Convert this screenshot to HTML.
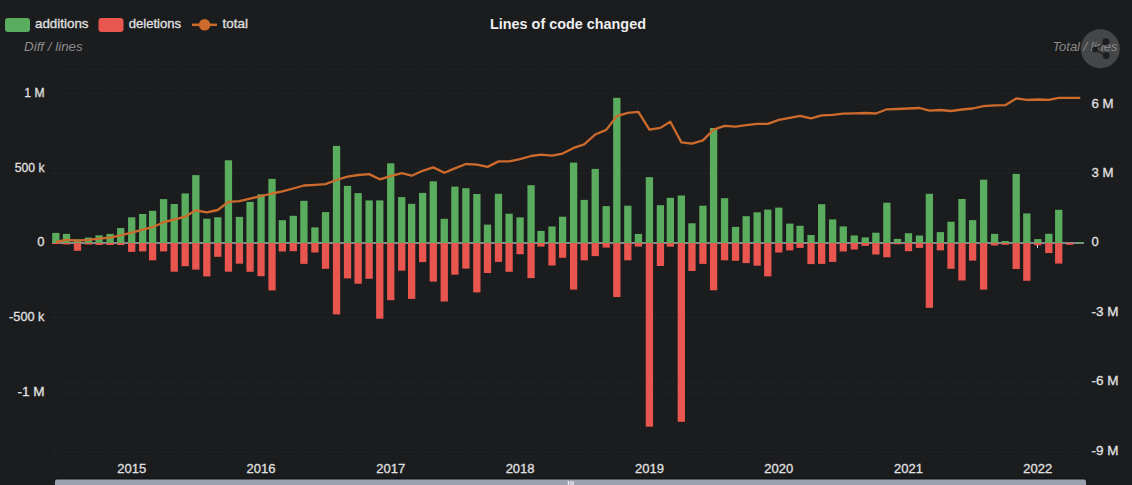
<!DOCTYPE html><html><head><meta charset="utf-8"><style>
html,body{margin:0;padding:0;background:#1b1c1e;width:1132px;height:485px;overflow:hidden}
svg{display:block}
text{font-family:"Liberation Sans",sans-serif}
.b{stroke:currentColor;stroke-width:0.3px}
</style></head><body>
<svg width="1132" height="485" viewBox="0 0 1132 485">
<rect width="1132" height="485" fill="#1b1c1e"/>

<line x1="52" y1="69.6" x2="1084" y2="69.6" stroke="#292a2d" stroke-width="1" stroke-dasharray="1,2"/>
<line x1="52" y1="93.5" x2="1084" y2="93.5" stroke="#292a2d" stroke-width="1" stroke-dasharray="1,2"/>
<line x1="52" y1="104.2" x2="1084" y2="104.2" stroke="#292a2d" stroke-width="1" stroke-dasharray="1,2"/>
<line x1="52" y1="168.2" x2="1084" y2="168.2" stroke="#292a2d" stroke-width="1" stroke-dasharray="1,2"/>
<line x1="52" y1="173.4" x2="1084" y2="173.4" stroke="#292a2d" stroke-width="1" stroke-dasharray="1,2"/>
<line x1="52" y1="312.6" x2="1084" y2="312.6" stroke="#292a2d" stroke-width="1" stroke-dasharray="1,2"/>
<line x1="52" y1="317.8" x2="1084" y2="317.8" stroke="#292a2d" stroke-width="1" stroke-dasharray="1,2"/>
<line x1="52" y1="382.0" x2="1084" y2="382.0" stroke="#292a2d" stroke-width="1" stroke-dasharray="1,2"/>
<line x1="52" y1="392.4" x2="1084" y2="392.4" stroke="#292a2d" stroke-width="1" stroke-dasharray="1,2"/>
<line x1="52" y1="452.0" x2="1084" y2="452.0" stroke="#292a2d" stroke-width="1" stroke-dasharray="1,2"/>
<line x1="52" y1="455.8" x2="1084" y2="455.8" stroke="#292a2d" stroke-width="1" stroke-dasharray="1,2"/>
<rect x="52" y="242" width="1032" height="2" fill="#86888e"/>
<rect x="52.21" y="232.9" width="7.3" height="10.1" fill="#5aad5e"/>
<rect x="52.21" y="243.0" width="7.3" height="1.0" fill="#e8564f"/>
<rect x="62.85" y="233.9" width="7.3" height="9.1" fill="#5aad5e"/>
<rect x="62.85" y="243.0" width="7.3" height="1.5" fill="#e8564f"/>
<rect x="73.83" y="239.2" width="7.3" height="3.8" fill="#5aad5e"/>
<rect x="73.83" y="243.0" width="7.3" height="7.8" fill="#e8564f"/>
<rect x="84.82" y="237.6" width="7.3" height="5.4" fill="#5aad5e"/>
<rect x="84.82" y="243.0" width="7.3" height="1.5" fill="#e8564f"/>
<rect x="95.45" y="235.3" width="7.3" height="7.7" fill="#5aad5e"/>
<rect x="95.45" y="243.0" width="7.3" height="2.0" fill="#e8564f"/>
<rect x="106.43" y="233.9" width="7.3" height="9.1" fill="#5aad5e"/>
<rect x="106.43" y="243.0" width="7.3" height="2.0" fill="#e8564f"/>
<rect x="117.06" y="228.0" width="7.3" height="15.0" fill="#5aad5e"/>
<rect x="117.06" y="243.0" width="7.3" height="2.0" fill="#e8564f"/>
<rect x="128.05" y="217.3" width="7.3" height="25.7" fill="#5aad5e"/>
<rect x="128.05" y="243.0" width="7.3" height="8.9" fill="#e8564f"/>
<rect x="139.04" y="214.0" width="7.3" height="29.0" fill="#5aad5e"/>
<rect x="139.04" y="243.0" width="7.3" height="8.4" fill="#e8564f"/>
<rect x="148.96" y="210.8" width="7.3" height="32.2" fill="#5aad5e"/>
<rect x="148.96" y="243.0" width="7.3" height="17.3" fill="#e8564f"/>
<rect x="159.94" y="199.1" width="7.3" height="43.9" fill="#5aad5e"/>
<rect x="159.94" y="243.0" width="7.3" height="8.4" fill="#e8564f"/>
<rect x="170.57" y="204.0" width="7.3" height="39.0" fill="#5aad5e"/>
<rect x="170.57" y="243.0" width="7.3" height="28.7" fill="#e8564f"/>
<rect x="181.56" y="193.4" width="7.3" height="49.6" fill="#5aad5e"/>
<rect x="181.56" y="243.0" width="7.3" height="23.2" fill="#e8564f"/>
<rect x="192.19" y="175.1" width="7.3" height="67.9" fill="#5aad5e"/>
<rect x="192.19" y="243.0" width="7.3" height="26.6" fill="#e8564f"/>
<rect x="203.18" y="218.7" width="7.3" height="24.3" fill="#5aad5e"/>
<rect x="203.18" y="243.0" width="7.3" height="33.4" fill="#e8564f"/>
<rect x="214.16" y="217.3" width="7.3" height="25.7" fill="#5aad5e"/>
<rect x="214.16" y="243.0" width="7.3" height="13.8" fill="#e8564f"/>
<rect x="224.79" y="160.3" width="7.3" height="82.7" fill="#5aad5e"/>
<rect x="224.79" y="243.0" width="7.3" height="28.7" fill="#e8564f"/>
<rect x="235.78" y="216.9" width="7.3" height="26.1" fill="#5aad5e"/>
<rect x="235.78" y="243.0" width="7.3" height="20.7" fill="#e8564f"/>
<rect x="246.41" y="201.9" width="7.3" height="41.1" fill="#5aad5e"/>
<rect x="246.41" y="243.0" width="7.3" height="28.8" fill="#e8564f"/>
<rect x="257.40" y="194.3" width="7.3" height="48.7" fill="#5aad5e"/>
<rect x="257.40" y="243.0" width="7.3" height="33.2" fill="#e8564f"/>
<rect x="268.38" y="178.9" width="7.3" height="64.1" fill="#5aad5e"/>
<rect x="268.38" y="243.0" width="7.3" height="47.4" fill="#e8564f"/>
<rect x="278.66" y="220.2" width="7.3" height="22.8" fill="#5aad5e"/>
<rect x="278.66" y="243.0" width="7.3" height="8.5" fill="#e8564f"/>
<rect x="289.64" y="215.8" width="7.3" height="27.2" fill="#5aad5e"/>
<rect x="289.64" y="243.0" width="7.3" height="8.2" fill="#e8564f"/>
<rect x="300.27" y="200.8" width="7.3" height="42.2" fill="#5aad5e"/>
<rect x="300.27" y="243.0" width="7.3" height="20.9" fill="#e8564f"/>
<rect x="311.26" y="227.4" width="7.3" height="15.6" fill="#5aad5e"/>
<rect x="311.26" y="243.0" width="7.3" height="9.5" fill="#e8564f"/>
<rect x="321.89" y="212.1" width="7.3" height="30.9" fill="#5aad5e"/>
<rect x="321.89" y="243.0" width="7.3" height="25.8" fill="#e8564f"/>
<rect x="332.88" y="145.9" width="7.3" height="97.1" fill="#5aad5e"/>
<rect x="332.88" y="243.0" width="7.3" height="71.4" fill="#e8564f"/>
<rect x="343.86" y="185.9" width="7.3" height="57.1" fill="#5aad5e"/>
<rect x="343.86" y="243.0" width="7.3" height="35.4" fill="#e8564f"/>
<rect x="354.49" y="193.1" width="7.3" height="49.9" fill="#5aad5e"/>
<rect x="354.49" y="243.0" width="7.3" height="40.7" fill="#e8564f"/>
<rect x="365.48" y="200.4" width="7.3" height="42.6" fill="#5aad5e"/>
<rect x="365.48" y="243.0" width="7.3" height="35.8" fill="#e8564f"/>
<rect x="376.11" y="200.4" width="7.3" height="42.6" fill="#5aad5e"/>
<rect x="376.11" y="243.0" width="7.3" height="75.7" fill="#e8564f"/>
<rect x="387.09" y="163.3" width="7.3" height="79.7" fill="#5aad5e"/>
<rect x="387.09" y="243.0" width="7.3" height="57.2" fill="#e8564f"/>
<rect x="398.08" y="197.1" width="7.3" height="45.9" fill="#5aad5e"/>
<rect x="398.08" y="243.0" width="7.3" height="27.7" fill="#e8564f"/>
<rect x="408.00" y="203.8" width="7.3" height="39.2" fill="#5aad5e"/>
<rect x="408.00" y="243.0" width="7.3" height="55.9" fill="#e8564f"/>
<rect x="418.99" y="192.9" width="7.3" height="50.1" fill="#5aad5e"/>
<rect x="418.99" y="243.0" width="7.3" height="19.1" fill="#e8564f"/>
<rect x="429.62" y="181.3" width="7.3" height="61.7" fill="#5aad5e"/>
<rect x="429.62" y="243.0" width="7.3" height="38.6" fill="#e8564f"/>
<rect x="440.60" y="218.8" width="7.3" height="24.2" fill="#5aad5e"/>
<rect x="440.60" y="243.0" width="7.3" height="58.5" fill="#e8564f"/>
<rect x="451.24" y="186.6" width="7.3" height="56.4" fill="#5aad5e"/>
<rect x="451.24" y="243.0" width="7.3" height="31.7" fill="#e8564f"/>
<rect x="462.22" y="188.2" width="7.3" height="54.8" fill="#5aad5e"/>
<rect x="462.22" y="243.0" width="7.3" height="25.6" fill="#e8564f"/>
<rect x="473.21" y="194.0" width="7.3" height="49.0" fill="#5aad5e"/>
<rect x="473.21" y="243.0" width="7.3" height="49.4" fill="#e8564f"/>
<rect x="483.84" y="224.6" width="7.3" height="18.4" fill="#5aad5e"/>
<rect x="483.84" y="243.0" width="7.3" height="30.0" fill="#e8564f"/>
<rect x="494.82" y="193.8" width="7.3" height="49.2" fill="#5aad5e"/>
<rect x="494.82" y="243.0" width="7.3" height="18.9" fill="#e8564f"/>
<rect x="505.45" y="213.7" width="7.3" height="29.3" fill="#5aad5e"/>
<rect x="505.45" y="243.0" width="7.3" height="28.8" fill="#e8564f"/>
<rect x="516.44" y="217.4" width="7.3" height="25.6" fill="#5aad5e"/>
<rect x="516.44" y="243.0" width="7.3" height="11.2" fill="#e8564f"/>
<rect x="527.42" y="185.2" width="7.3" height="57.8" fill="#5aad5e"/>
<rect x="527.42" y="243.0" width="7.3" height="35.1" fill="#e8564f"/>
<rect x="537.35" y="230.9" width="7.3" height="12.1" fill="#5aad5e"/>
<rect x="537.35" y="243.0" width="7.3" height="3.6" fill="#e8564f"/>
<rect x="548.33" y="226.5" width="7.3" height="16.5" fill="#5aad5e"/>
<rect x="548.33" y="243.0" width="7.3" height="22.5" fill="#e8564f"/>
<rect x="558.96" y="216.7" width="7.3" height="26.3" fill="#5aad5e"/>
<rect x="558.96" y="243.0" width="7.3" height="14.8" fill="#e8564f"/>
<rect x="569.95" y="162.6" width="7.3" height="80.4" fill="#5aad5e"/>
<rect x="569.95" y="243.0" width="7.3" height="46.6" fill="#e8564f"/>
<rect x="580.58" y="199.9" width="7.3" height="43.1" fill="#5aad5e"/>
<rect x="580.58" y="243.0" width="7.3" height="17.3" fill="#e8564f"/>
<rect x="591.57" y="168.9" width="7.3" height="74.1" fill="#5aad5e"/>
<rect x="591.57" y="243.0" width="7.3" height="13.1" fill="#e8564f"/>
<rect x="602.55" y="206.1" width="7.3" height="36.9" fill="#5aad5e"/>
<rect x="602.55" y="243.0" width="7.3" height="4.6" fill="#e8564f"/>
<rect x="613.18" y="97.8" width="7.3" height="145.2" fill="#5aad5e"/>
<rect x="613.18" y="243.0" width="7.3" height="54.0" fill="#e8564f"/>
<rect x="624.17" y="205.7" width="7.3" height="37.3" fill="#5aad5e"/>
<rect x="624.17" y="243.0" width="7.3" height="17.3" fill="#e8564f"/>
<rect x="634.80" y="233.9" width="7.3" height="9.1" fill="#5aad5e"/>
<rect x="634.80" y="243.0" width="7.3" height="3.6" fill="#e8564f"/>
<rect x="645.78" y="177.2" width="7.3" height="65.8" fill="#5aad5e"/>
<rect x="645.78" y="243.0" width="7.3" height="183.7" fill="#e8564f"/>
<rect x="656.77" y="205.2" width="7.3" height="37.8" fill="#5aad5e"/>
<rect x="656.77" y="243.0" width="7.3" height="23.0" fill="#e8564f"/>
<rect x="666.69" y="197.8" width="7.3" height="45.2" fill="#5aad5e"/>
<rect x="666.69" y="243.0" width="7.3" height="3.7" fill="#e8564f"/>
<rect x="677.68" y="195.5" width="7.3" height="47.5" fill="#5aad5e"/>
<rect x="677.68" y="243.0" width="7.3" height="178.8" fill="#e8564f"/>
<rect x="688.31" y="223.3" width="7.3" height="19.7" fill="#5aad5e"/>
<rect x="688.31" y="243.0" width="7.3" height="28.0" fill="#e8564f"/>
<rect x="699.29" y="205.7" width="7.3" height="37.3" fill="#5aad5e"/>
<rect x="699.29" y="243.0" width="7.3" height="20.9" fill="#e8564f"/>
<rect x="709.93" y="128.0" width="7.3" height="115.0" fill="#5aad5e"/>
<rect x="709.93" y="243.0" width="7.3" height="47.3" fill="#e8564f"/>
<rect x="720.91" y="198.2" width="7.3" height="44.8" fill="#5aad5e"/>
<rect x="720.91" y="243.0" width="7.3" height="17.3" fill="#e8564f"/>
<rect x="731.90" y="226.9" width="7.3" height="16.1" fill="#5aad5e"/>
<rect x="731.90" y="243.0" width="7.3" height="17.8" fill="#e8564f"/>
<rect x="742.53" y="216.2" width="7.3" height="26.8" fill="#5aad5e"/>
<rect x="742.53" y="243.0" width="7.3" height="20.1" fill="#e8564f"/>
<rect x="753.51" y="212.3" width="7.3" height="30.7" fill="#5aad5e"/>
<rect x="753.51" y="243.0" width="7.3" height="22.7" fill="#e8564f"/>
<rect x="764.14" y="209.6" width="7.3" height="33.4" fill="#5aad5e"/>
<rect x="764.14" y="243.0" width="7.3" height="33.4" fill="#e8564f"/>
<rect x="775.13" y="207.6" width="7.3" height="35.4" fill="#5aad5e"/>
<rect x="775.13" y="243.0" width="7.3" height="9.5" fill="#e8564f"/>
<rect x="786.12" y="223.6" width="7.3" height="19.4" fill="#5aad5e"/>
<rect x="786.12" y="243.0" width="7.3" height="7.4" fill="#e8564f"/>
<rect x="796.39" y="225.8" width="7.3" height="17.2" fill="#5aad5e"/>
<rect x="796.39" y="243.0" width="7.3" height="4.9" fill="#e8564f"/>
<rect x="807.38" y="235.0" width="7.3" height="8.0" fill="#5aad5e"/>
<rect x="807.38" y="243.0" width="7.3" height="21.1" fill="#e8564f"/>
<rect x="818.01" y="204.2" width="7.3" height="38.8" fill="#5aad5e"/>
<rect x="818.01" y="243.0" width="7.3" height="20.9" fill="#e8564f"/>
<rect x="828.99" y="219.4" width="7.3" height="23.6" fill="#5aad5e"/>
<rect x="828.99" y="243.0" width="7.3" height="18.9" fill="#e8564f"/>
<rect x="839.62" y="226.4" width="7.3" height="16.6" fill="#5aad5e"/>
<rect x="839.62" y="243.0" width="7.3" height="8.5" fill="#e8564f"/>
<rect x="850.61" y="235.5" width="7.3" height="7.5" fill="#5aad5e"/>
<rect x="850.61" y="243.0" width="7.3" height="6.5" fill="#e8564f"/>
<rect x="861.60" y="237.4" width="7.3" height="5.6" fill="#5aad5e"/>
<rect x="861.60" y="243.0" width="7.3" height="2.9" fill="#e8564f"/>
<rect x="872.23" y="232.7" width="7.3" height="10.3" fill="#5aad5e"/>
<rect x="872.23" y="243.0" width="7.3" height="11.5" fill="#e8564f"/>
<rect x="883.21" y="202.7" width="7.3" height="40.3" fill="#5aad5e"/>
<rect x="883.21" y="243.0" width="7.3" height="14.3" fill="#e8564f"/>
<rect x="893.84" y="238.9" width="7.3" height="4.1" fill="#5aad5e"/>
<rect x="893.84" y="243.0" width="7.3" height="1.3" fill="#e8564f"/>
<rect x="904.83" y="233.2" width="7.3" height="9.8" fill="#5aad5e"/>
<rect x="904.83" y="243.0" width="7.3" height="8.2" fill="#e8564f"/>
<rect x="915.81" y="235.5" width="7.3" height="7.5" fill="#5aad5e"/>
<rect x="915.81" y="243.0" width="7.3" height="4.9" fill="#e8564f"/>
<rect x="925.74" y="193.8" width="7.3" height="49.2" fill="#5aad5e"/>
<rect x="925.74" y="243.0" width="7.3" height="64.8" fill="#e8564f"/>
<rect x="936.72" y="232.1" width="7.3" height="10.9" fill="#5aad5e"/>
<rect x="936.72" y="243.0" width="7.3" height="7.4" fill="#e8564f"/>
<rect x="947.35" y="221.7" width="7.3" height="21.3" fill="#5aad5e"/>
<rect x="947.35" y="243.0" width="7.3" height="25.8" fill="#e8564f"/>
<rect x="958.34" y="199.0" width="7.3" height="44.0" fill="#5aad5e"/>
<rect x="958.34" y="243.0" width="7.3" height="37.5" fill="#e8564f"/>
<rect x="968.97" y="220.1" width="7.3" height="22.9" fill="#5aad5e"/>
<rect x="968.97" y="243.0" width="7.3" height="17.6" fill="#e8564f"/>
<rect x="979.96" y="179.7" width="7.3" height="63.3" fill="#5aad5e"/>
<rect x="979.96" y="243.0" width="7.3" height="46.6" fill="#e8564f"/>
<rect x="990.94" y="233.9" width="7.3" height="9.1" fill="#5aad5e"/>
<rect x="990.94" y="243.0" width="7.3" height="2.5" fill="#e8564f"/>
<rect x="1001.57" y="241.0" width="7.3" height="2.0" fill="#5aad5e"/>
<rect x="1001.57" y="243.0" width="7.3" height="1.8" fill="#e8564f"/>
<rect x="1012.56" y="173.9" width="7.3" height="69.1" fill="#5aad5e"/>
<rect x="1012.56" y="243.0" width="7.3" height="26.0" fill="#e8564f"/>
<rect x="1023.19" y="213.4" width="7.3" height="29.6" fill="#5aad5e"/>
<rect x="1023.19" y="243.0" width="7.3" height="37.8" fill="#e8564f"/>
<rect x="1034.17" y="239.1" width="7.3" height="3.9" fill="#5aad5e"/>
<rect x="1034.17" y="243.0" width="7.3" height="2.3" fill="#e8564f"/>
<rect x="1045.16" y="233.8" width="7.3" height="9.2" fill="#5aad5e"/>
<rect x="1045.16" y="243.0" width="7.3" height="10.0" fill="#e8564f"/>
<rect x="1055.08" y="209.8" width="7.3" height="33.2" fill="#5aad5e"/>
<rect x="1055.08" y="243.0" width="7.3" height="20.6" fill="#e8564f"/>
<rect x="1066.07" y="243.0" width="7.3" height="1.8" fill="#e8564f"/>
<rect x="1076.70" y="242.0" width="7.3" height="1.0" fill="#5aad5e"/>
<polyline points="55.9,242.0 66.5,239.9 77.5,240.7 88.5,239.9 99.1,238.7 110.1,237.6 120.7,235.4 131.7,232.6 142.7,229.6 152.6,227.2 163.6,222.2 174.2,219.7 185.2,216.7 195.8,210.3 206.8,212.3 217.8,210.0 228.4,201.9 239.4,201.1 250.1,198.7 261.0,196.1 272.0,193.5 282.3,191.4 293.3,188.5 303.9,185.5 314.9,184.8 325.5,184.1 336.5,180.0 347.5,176.7 358.1,175.0 369.1,174.1 379.8,179.3 390.7,176.1 401.7,173.1 411.7,175.7 422.6,170.8 433.3,167.4 444.3,172.8 454.9,168.4 465.9,164.0 476.9,164.7 487.5,166.9 498.5,161.4 509.1,161.4 520.1,159.2 531.1,156.0 541.0,154.6 552.0,155.7 562.6,153.6 573.6,147.9 584.2,144.4 595.2,134.5 606.2,129.9 616.8,116.1 627.8,112.8 638.4,111.8 649.4,129.6 660.4,127.9 670.3,121.7 681.3,142.3 692.0,143.7 702.9,140.4 713.6,129.7 724.6,125.9 735.5,126.7 746.2,125.1 757.2,123.9 767.8,123.9 778.8,119.8 789.8,117.8 800.0,115.9 811.0,118.3 821.7,115.4 832.6,114.9 843.3,113.7 854.3,113.3 865.2,113.0 875.9,113.5 886.9,109.3 897.5,109.0 908.5,108.5 919.5,108.0 929.4,110.7 940.4,110.0 951.0,111.0 962.0,109.5 972.6,108.5 983.6,106.1 994.6,105.3 1005.2,105.2 1016.2,98.4 1026.8,99.9 1037.8,99.5 1048.8,99.9 1058.7,97.9 1069.7,97.9 1080.3,97.9" fill="none" stroke="#cd6b2d" stroke-width="2.3" stroke-linejoin="round"/>
<text x="44.5" y="96.8" font-size="13" fill="#e0e0e0" stroke="#e0e0e0" stroke-width="0.3" text-anchor="end" textLength="20.2" lengthAdjust="spacingAndGlyphs">1 M</text>
<text x="44.5" y="171.5" font-size="13" fill="#e0e0e0" stroke="#e0e0e0" stroke-width="0.3" text-anchor="end" textLength="29.8" lengthAdjust="spacingAndGlyphs">500 k</text>
<text x="44.5" y="246.3" font-size="13" fill="#e0e0e0" stroke="#e0e0e0" stroke-width="0.3" text-anchor="end">0</text>
<text x="44.5" y="321.1" font-size="13" fill="#e0e0e0" stroke="#e0e0e0" stroke-width="0.3" text-anchor="end" textLength="35.4" lengthAdjust="spacingAndGlyphs">-500 k</text>
<text x="44.5" y="395.7" font-size="13" fill="#e0e0e0" stroke="#e0e0e0" stroke-width="0.3" text-anchor="end" textLength="27.1" lengthAdjust="spacingAndGlyphs">-1 M</text>
<text x="1091.5" y="107.5" font-size="13" fill="#e0e0e0" stroke="#e0e0e0" stroke-width="0.3" textLength="22" lengthAdjust="spacingAndGlyphs">6 M</text>
<text x="1091.5" y="176.7" font-size="13" fill="#e0e0e0" stroke="#e0e0e0" stroke-width="0.3" textLength="22" lengthAdjust="spacingAndGlyphs">3 M</text>
<text x="1091.5" y="246.3" font-size="13" fill="#e0e0e0" stroke="#e0e0e0" stroke-width="0.3">0</text>
<text x="1091.5" y="315.9" font-size="13" fill="#e0e0e0" stroke="#e0e0e0" stroke-width="0.3" textLength="27" lengthAdjust="spacingAndGlyphs">-3 M</text>
<text x="1091.5" y="385.3" font-size="13" fill="#e0e0e0" stroke="#e0e0e0" stroke-width="0.3" textLength="27" lengthAdjust="spacingAndGlyphs">-6 M</text>
<text x="1091.5" y="455.3" font-size="13" fill="#e0e0e0" stroke="#e0e0e0" stroke-width="0.3" textLength="27" lengthAdjust="spacingAndGlyphs">-9 M</text>
<text x="131.7" y="473" font-size="13" fill="#e0e0e0" stroke="#e0e0e0" stroke-width="0.3" text-anchor="middle">2015</text>
<text x="261.0" y="473" font-size="13" fill="#e0e0e0" stroke="#e0e0e0" stroke-width="0.3" text-anchor="middle">2016</text>
<text x="390.7" y="473" font-size="13" fill="#e0e0e0" stroke="#e0e0e0" stroke-width="0.3" text-anchor="middle">2017</text>
<text x="520.1" y="473" font-size="13" fill="#e0e0e0" stroke="#e0e0e0" stroke-width="0.3" text-anchor="middle">2018</text>
<text x="649.4" y="473" font-size="13" fill="#e0e0e0" stroke="#e0e0e0" stroke-width="0.3" text-anchor="middle">2019</text>
<text x="778.8" y="473" font-size="13" fill="#e0e0e0" stroke="#e0e0e0" stroke-width="0.3" text-anchor="middle">2020</text>
<text x="908.5" y="473" font-size="13" fill="#e0e0e0" stroke="#e0e0e0" stroke-width="0.3" text-anchor="middle">2021</text>
<text x="1037.8" y="473" font-size="13" fill="#e0e0e0" stroke="#e0e0e0" stroke-width="0.3" text-anchor="middle">2022</text>
<text x="568" y="29" font-size="14.4" font-weight="bold" fill="#eeeeee" text-anchor="middle">Lines of code changed</text>
<rect x="5" y="18" width="25" height="14" rx="3" fill="#5aad5e"/>
<text x="35" y="28" font-size="13" fill="#e0e0e0" stroke="#e0e0e0" stroke-width="0.3" textLength="53.5" lengthAdjust="spacingAndGlyphs">additions</text>
<rect x="98.5" y="18" width="25" height="14" rx="3" fill="#e8564f"/>
<text x="128.7" y="28" font-size="13" fill="#e0e0e0" stroke="#e0e0e0" stroke-width="0.3" textLength="52.5" lengthAdjust="spacingAndGlyphs">deletions</text>
<line x1="192" y1="24.8" x2="217" y2="24.8" stroke="#cd6b2d" stroke-width="2.5"/>
<circle cx="204.6" cy="24.8" r="5.8" fill="#cd6b2d"/>
<text x="222.6" y="28" font-size="13" fill="#e0e0e0" stroke="#e0e0e0" stroke-width="0.3" textLength="25.4" lengthAdjust="spacingAndGlyphs">total</text>
<circle cx="1100.3" cy="48.7" r="19.5" fill="#454648"/>
<text x="24" y="50.5" font-size="13" font-style="italic" fill="#8a8a8a" textLength="58.7" lengthAdjust="spacingAndGlyphs">Diff / lines</text>
<text x="1052.4" y="50.5" font-size="13" font-style="italic" fill="#8a8a8a" textLength="65" lengthAdjust="spacingAndGlyphs">Total / lines</text>
<g fill="#1c1d1f" stroke="#1c1d1f" stroke-width="1.3"><line x1="1095" y1="49.5" x2="1106" y2="41.8"/><line x1="1095" y1="49.5" x2="1106.2" y2="55.6"/><circle cx="1106" cy="41.8" r="2.8"/><circle cx="1106.2" cy="55.6" r="2.8"/><circle cx="1095" cy="49.5" r="2.2"/></g>
<rect x="55" y="478" width="1031" height="1.2" fill="#131416"/>
<rect x="55" y="479.4" width="1031" height="12" rx="2" fill="#9ba1af"/>
<rect x="567.8" y="481" width="1.3" height="5" fill="#eceef2"/><rect x="569.8" y="481.3" width="4.3" height="5" fill="#d2d4da"/>
<rect x="1037" y="245" width="1" height="3" fill="#dddddd"/>
</svg></body></html>
